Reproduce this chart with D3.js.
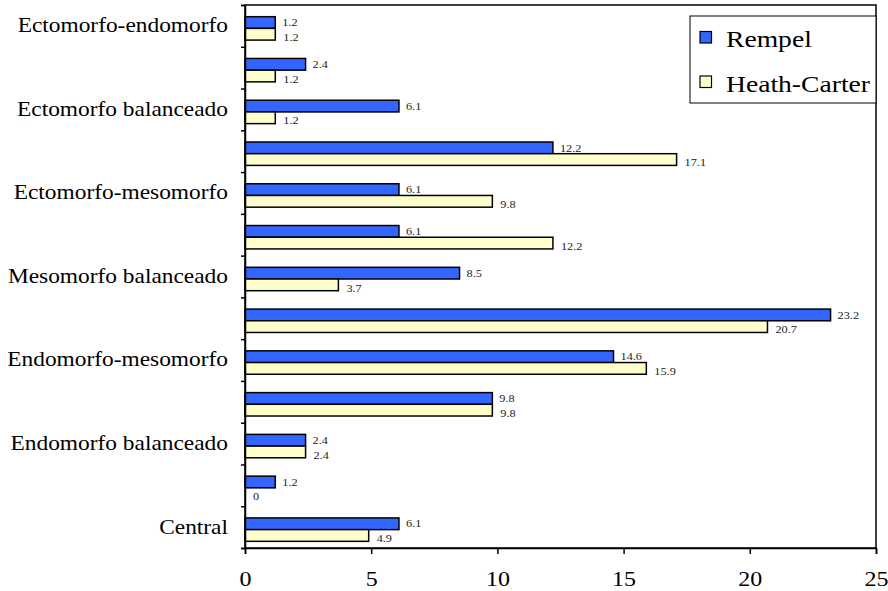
<!DOCTYPE html>
<html>
<head>
<meta charset="utf-8">
<script src="https://cdn.jsdelivr.net/npm/d3@7"></script>
<style>
  html, body { margin: 0; padding: 0; background: #fff; }
</style>
</head>
<body>
<svg id="chart" width="888" height="591"></svg>
<script>
// Somatotype categories, top to bottom (blank rows are unlabeled intermediate types)
const categories = [
  "Ectomorfo-endomorfo", "", "Ectomorfo balanceado", "",
  "Ectomorfo-mesomorfo", "", "Mesomorfo balanceado", "",
  "Endomorfo-mesomorfo", "", "Endomorfo balanceado", "", "Central"
];
const rempel      = [1.2, 2.4, 6.1, 12.2, 6.1, 6.1, 8.5, 23.2, 14.6, 9.8, 2.4, 1.2, 6.1];
const heathCarter = [1.2, 1.2, 1.2, 17.1, 9.8, 12.2, 3.7, 20.7, 15.9, 9.8, 2.4, 0, 4.9];
const seriesNames = ["Rempel", "Heath-Carter"];
const seriesColors = ["#3366ff", "#ffffcc"];
const xTicks = [0, 5, 10, 15, 20, 25];

const FONT = "'Liberation Serif'";
const WIDE = 1.17; // horizontal stretch of the serif lettering
const svg = d3.select("#chart");
const plotLeft = 245, plotRight = 876, plotTop = 5, plotBottom = 548;

const x = d3.scaleLinear().domain([0, 25]).range([plotLeft, plotRight]);
const y = d3.scaleBand().domain(d3.range(categories.length)).range([plotTop, plotBottom]).padding(0);
const bw = y.bandwidth();
const barH = bw * 0.28;
const barOff = bw * 0.28;

// Plot frame (top and right edges)
svg.append("rect")
  .attr("x", plotLeft).attr("y", plotTop)
  .attr("width", plotRight - plotLeft).attr("height", plotBottom - plotTop)
  .attr("fill", "none").attr("stroke", "#000").attr("stroke-width", 1.5);

// Bars and value labels
const series = [rempel, heathCarter];
series.forEach((vals, s) => {
  const g = svg.append("g");
  g.selectAll("rect").data(vals).join("rect")
    .attr("x", x(0))
    .attr("y", (d, i) => y(i) + barOff + s * barH)
    .attr("width", d => x(d) - x(0))
    .attr("height", barH)
    .attr("fill", seriesColors[s])
    .attr("stroke", "#000")
    .attr("stroke-width", d => d > 0 ? 1.5 : 0);
  g.selectAll("text").data(vals).join("text")
    .attr("transform", (d, i) =>
      `translate(${x(d) + (s === 0 ? 7 : 8)},${y(i) + barOff + s * barH + barH / 2 + (s === 0 ? 0 : 3)}) scale(${WIDE},1)`)
    .attr("dy", "0.35em")
    .style("font-family", FONT)
    .attr("font-size", 10.5)
    .attr("fill", "#222")
    .text(d => d);
});

// X axis
const xAxis = svg.append("g")
  .attr("transform", `translate(0,${plotBottom})`)
  .call(d3.axisBottom(x).tickValues(xTicks).tickSize(6).tickPadding(17).tickFormat(d3.format("d")));
xAxis.attr("font-family", null);
xAxis.select(".domain").attr("stroke-width", 1.5);
xAxis.selectAll(".tick line").attr("stroke-width", 1.5);
xAxis.selectAll("text").style("font-family", FONT).attr("font-size", 20.5).attr("fill", "#000")
  .attr("transform", `scale(${WIDE},1)`);

// Y axis: tick marks between categories
const yb = d3.scaleLinear().domain([0, categories.length]).range([plotTop, plotBottom]);
const yAxis = svg.append("g")
  .attr("transform", `translate(${plotLeft},0)`)
  .call(d3.axisLeft(yb).tickValues(d3.range(categories.length + 1)).tickSize(4).tickFormat(""));
yAxis.select(".domain").attr("stroke-width", 1.5);
yAxis.selectAll(".tick line").attr("stroke-width", 1.5);

// Category labels
const yLabels = svg.append("g")
  .attr("transform", `translate(${plotLeft},0)`)
  .call(d3.axisLeft(y).tickSize(0).tickPadding(17).tickFormat(i => categories[i]));
yLabels.attr("font-family", null);
yLabels.select(".domain").remove();
yLabels.selectAll("text").style("font-family", FONT).attr("font-size", 20).attr("fill", "#000")
  .attr("x", 0).attr("transform", `translate(-17,0) scale(${WIDE},1)`);

// Legend
const lg = svg.append("g");
lg.append("rect")
  .attr("x", 690).attr("y", 16).attr("width", 186).attr("height", 87)
  .attr("fill", "#fff").attr("stroke", "#000").attr("stroke-width", 1);
seriesNames.forEach((name, i) => {
  const yy = 31.5 + i * 44.5;
  lg.append("rect")
    .attr("x", 700).attr("y", yy).attr("width", 11.5).attr("height", 11.5)
    .attr("fill", seriesColors[i]).attr("stroke", "#000").attr("stroke-width", 1.2);
  lg.append("text")
    .attr("transform", `translate(726,${yy + 15.5}) scale(1.2,1)`)
    .style("font-family", FONT)
    .attr("font-size", 23).attr("fill", "#000")
    .text(name);
});
</script>
</body>
</html>
